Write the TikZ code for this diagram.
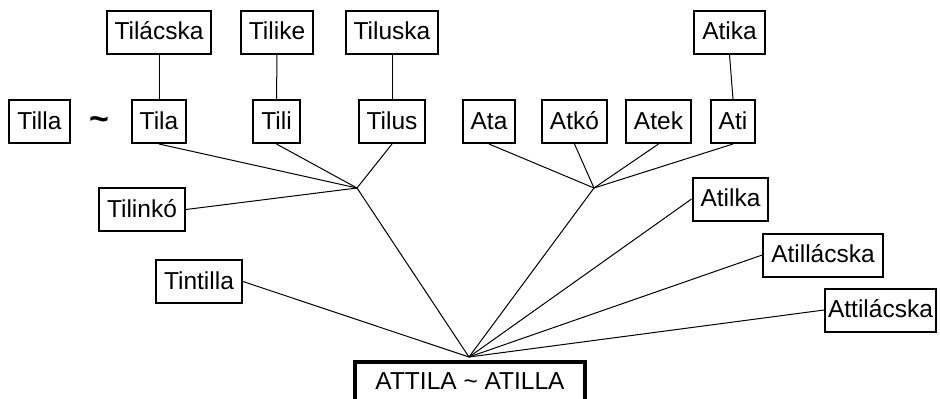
\documentclass[tikz,border=0pt]{standalone}
\usepackage{fontspec}
\setmainfont{Liberation Sans}
\begin{document}
\begin{tikzpicture}[x=1pt,y=-1pt,
  box/.style={draw,line width=2pt,inner xsep=8pt,inner ysep=6pt,text height=23pt,text depth=8pt,font=\fontsize{24.5}{29}\selectfont},
  plain/.style={inner sep=0pt,font=\fontsize{34}{40}\selectfont\bfseries},
  mainbox/.style={draw,line width=4pt,minimum width=230pt,inner ysep=9.5pt,text height=17.5pt,text depth=40pt,font=\fontsize{24.5}{29}\selectfont},
  conn/.style={line width=1pt}]
\useasboundingbox (0,0) rectangle (940,399);
\clip (0,0) rectangle (940,399);
% top row
\node[box] (tilacska) at (159,32) {Tilácska};
\node[box] (tilike) at (277,32) {Tilike};
\node[box] (tiluska) at (392,32) {Tiluska};
\node[box] (atika) at (729.5,32) {Atika};
% second row
\node[box] (tilla) at (39.5,121.5) {Tilla};
\node[plain,anchor=base] (tilde) at (99,130) {\textasciitilde};
\node[box] (tila) at (159,121.5) {Tila};
\node[box] (tili) at (276.5,121.5) {Tili};
\node[box] (tilus) at (392,121.5) {Tilus};
\node[box] (ata) at (489,121.5) {Ata};
\node[box] (atko) at (574.5,121.5) {Atkó};
\node[box] (atek) at (658.5,121.5) {Atek};
\node[box] (ati) at (733,121.5) {Ati};
% others
\node[box] (tilinko) at (142,209.5) {Tilinkó};
\node[box] (tintilla) at (199,281.5) {Tintilla};
\node[box] (atilka) at (730.5,199) {Atilka};
\node[box] (atillacska) at (823,255) {Atillácska};
\node[box,inner xsep=3pt] (attilacska) at (880.5,310) {Attilácska};
\node[mainbox,anchor=north] (attila) at (470,360) {ATTILA \textasciitilde{} ATILLA};
% junctions
\coordinate (jl) at (357,188);
\coordinate (jr) at (594,188);
\coordinate (apex) at (469,357);
% connectors
\draw[conn] (tilacska.south) -- (tila.north);
\draw[conn] (tilike.south) -- (tili.north);
\draw[conn] (tiluska.south) -- (tilus.north);
\draw[conn] (atika.south) -- (ati.north);
\draw[conn] (tila.south) -- (jl);
\draw[conn] (tili.south) -- (jl);
\draw[conn] (tilus.south) -- (jl);
\draw[conn] (tilinko.east) -- (jl);
\draw[conn] (ata.south) -- (jr);
\draw[conn] (atko.south) -- (jr);
\draw[conn] (atek.south) -- (jr);
\draw[conn] (ati.south) -- (jr);
\draw[conn] (jl) -- (apex);
\draw[conn] (jr) -- (apex);
\draw[conn] (tintilla.east) -- (apex);
\draw[conn] (atilka.west) -- (apex);
\draw[conn] (atillacska.west) -- (apex);
\draw[conn] (attilacska.west) -- (apex);
\end{tikzpicture}
\end{document}
